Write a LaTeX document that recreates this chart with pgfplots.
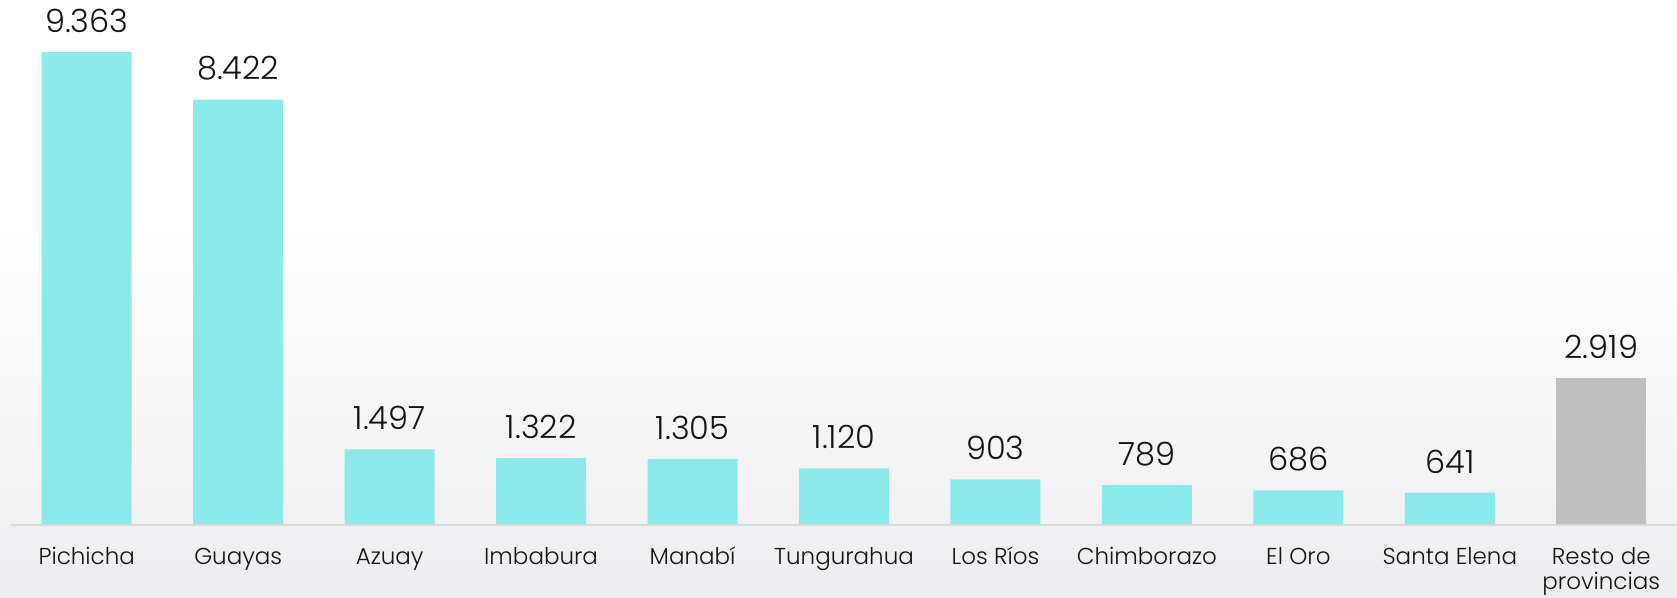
\documentclass[border=0pt]{standalone}
\usepackage{fontspec}
\setmainfont{Poppins}[UprightFont=* Light]
\usepackage{pgfplots}
\usepackage{pgfplotstable}
\pgfplotsset{compat=1.18}
\definecolor{barcyan}{RGB}{140,233,234}
\definecolor{bargrey}{RGB}{191,191,191}
\definecolor{axisgrey}{RGB}{217,217,217}
\definecolor{txt}{RGB}{20,20,20}
\definecolor{bglow}{RGB}{237,237,239}

\pgfplotstableread{
x y label
0 9363 9.363
1 8422 8.422
2 1497 1.497
3 1322 1.322
4 1305 1.305
5 1120 1.120
6 903 903
7 789 789
8 686 686
9 641 641
}\provincias
\pgfplotstableread{
x y label
10 2919 2.919
}\resto

\begin{document}
\begin{tikzpicture}
\fill[white] (-5.5pt,150pt) rectangle (833pt,262.5pt);
\shade[top color=white,bottom color=bglow] (-5.5pt,-36.5pt) rectangle (833pt,150pt);
\begin{axis}[
  scale only axis,
  width=833pt, height=252.5pt,
  xmin=-0.5, xmax=10.5,
  ymin=0, ymax=10000,
  axis lines=none,
  clip=false,
  ybar, bar width=45pt, bar shift=0pt,
  point meta=explicit symbolic,
  nodes near coords,
  every node near coord/.append style={font=\fontsize{16}{18}\selectfont, text=txt, anchor=south, inner sep=0pt, yshift=9.5pt},
]
\addplot[draw=none, fill=barcyan] table[x=x, y=y, meta=label] {\provincias};
\addplot[draw=none, fill=bargrey] table[x=x, y=y, meta=label] {\resto};
\draw[axisgrey, line width=1pt] (axis cs:-0.5,0) -- (axis cs:10.5,0);
\foreach \i/\n in {0/Pichicha,1/Guayas,2/Azuay,3/Imbabura,4/Manabí,5/Tungurahua,6/Los Ríos,7/Chimborazo,8/El Oro,9/Santa Elena}{
  \edef\tmp{\noexpand\node[anchor=base, inner sep=0pt, text=txt, font=\noexpand\fontsize{11.5}{12.5}\noexpand\selectfont] at (axis cs:\i,0) [yshift=-20pt] {\n};}
  \tmp
}
\node[anchor=base, inner sep=0pt, text=txt, align=center, font=\fontsize{11.5}{12.5}\selectfont] at (axis cs:10,0) [yshift=-32.5pt] {Resto de\\provincias};
\end{axis}
\pgfresetboundingbox
\path[use as bounding box] (-5.5pt,-36.5pt) rectangle (833pt,262.5pt);
\end{tikzpicture}
\end{document}
